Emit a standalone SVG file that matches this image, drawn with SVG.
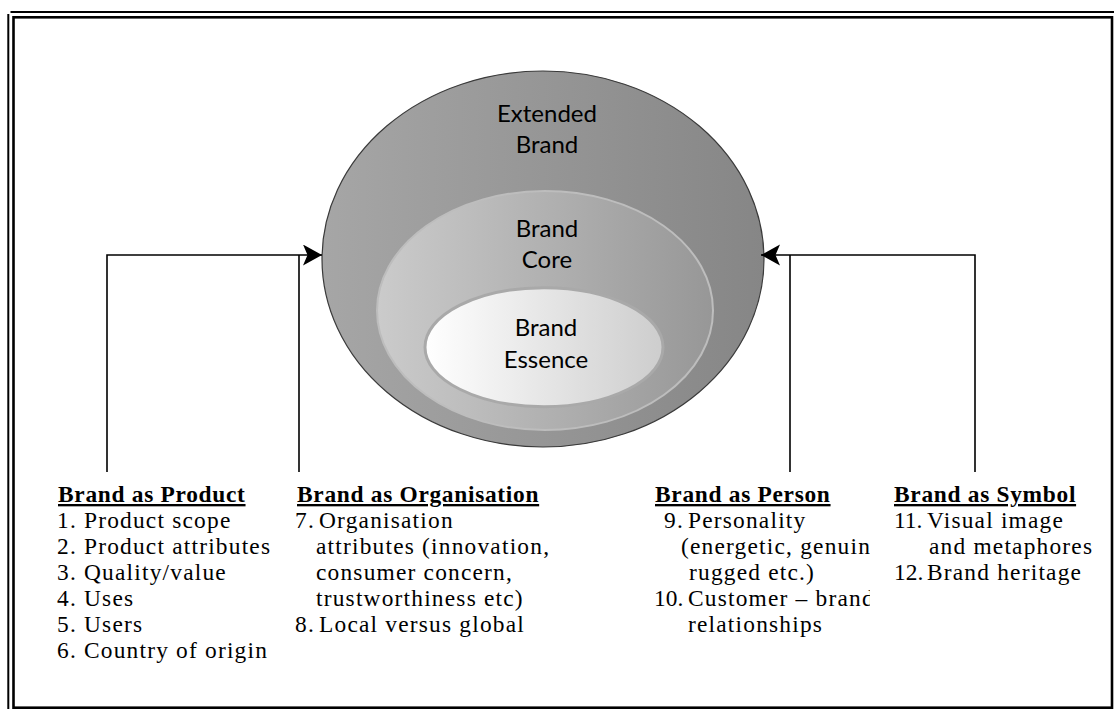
<svg xmlns="http://www.w3.org/2000/svg" width="1114" height="709" viewBox="0 0 1114 709">
  <style>
    .frame { fill: none; stroke: #000; }
    .ring { font-family: Lato, "DejaVu Sans", sans-serif; font-size: 24px; fill: #000; text-anchor: middle; }
    .head { font-family: "Liberation Serif", serif; font-size: 23.4px; font-weight: bold; letter-spacing: 0.7px; text-decoration: underline; fill: #000; }
    .item { font-family: "Liberation Serif", serif; font-size: 23.4px; letter-spacing: 1.2px; fill: #000; }
    .num { letter-spacing: 0px; }
    .conn { fill: none; stroke: #000; stroke-width: 1.6; }
  </style>
  <defs>
    <linearGradient id="gOuter" x1="0" y1="0" x2="1" y2="0">
      <stop offset="0" stop-color="#a6a6a6"/>
      <stop offset="1" stop-color="#868686"/>
    </linearGradient>
    <linearGradient id="gCore" x1="0" y1="0" x2="1" y2="0">
      <stop offset="0" stop-color="#cbcbcb"/>
      <stop offset="1" stop-color="#979797"/>
    </linearGradient>
    <linearGradient id="gEss" x1="0" y1="0" x2="1" y2="0">
      <stop offset="0" stop-color="#ffffff"/>
      <stop offset="1" stop-color="#cdcdcd"/>
    </linearGradient>
    <marker id="arrow" markerUnits="userSpaceOnUse" markerWidth="20" markerHeight="22" refX="19" refY="10.5" orient="auto">
      <path d="M0,0 L19,10.5 L0,21 L4.5,10.5 Z" fill="#000"/>
    </marker>
    <clipPath id="clipPerson">
      <rect x="600" y="470" width="270" height="200"/>
    </clipPath>
  </defs>

  <rect x="0" y="0" width="1114" height="709" fill="#fff"/>

  <g id="frame">
    <line class="frame" x1="10.5" y1="12" x2="1114" y2="12" stroke-width="2"/>
    <line class="frame" x1="8.3" y1="14" x2="8.3" y2="709" stroke-width="2"/>
    <rect class="frame" x="13.5" y="17.3" width="1098.5" height="690.4" stroke-width="2.6"/>
  </g>

  <g id="extended-brand">
    <ellipse cx="543" cy="259" rx="221" ry="188" fill="url(#gOuter)" stroke="#3a3a3a" stroke-width="1.2"/>
    <text class="ring" x="547" y="121.7">Extended</text>
    <text class="ring" x="547" y="153.3">Brand</text>
  </g>

  <g id="brand-core">
    <ellipse cx="545" cy="310.5" rx="168" ry="119.5" fill="url(#gCore)" stroke="#bdbdbd" stroke-width="2"/>
    <text class="ring" x="547" y="236.7">Brand</text>
    <text class="ring" x="547" y="268.3">Core</text>
  </g>

  <g id="brand-essence">
    <ellipse cx="544" cy="347.2" rx="119" ry="59.5" fill="url(#gEss)" stroke="#a9a9a9" stroke-width="3"/>
    <text class="ring" x="546" y="336">Brand</text>
    <text class="ring" x="546" y="368.3">Essence</text>
  </g>

  <g id="connectors">
    <polyline class="conn" points="107,472 107,255 322,255" marker-end="url(#arrow)"/>
    <line class="conn" x1="299" y1="255" x2="299" y2="472"/>
    <polyline class="conn" points="975,472 975,255 761,255" marker-end="url(#arrow)"/>
    <line class="conn" x1="790" y1="255" x2="790" y2="472"/>
  </g>

  <g id="brand-as-product">
    <text class="head" x="58" y="502">Brand as Product</text>
    <text class="item" x="57" y="528">1. Product scope</text>
    <text class="item" x="57" y="554">2. Product attributes</text>
    <text class="item" x="57" y="580">3. Quality/value</text>
    <text class="item" x="57" y="606">4. Uses</text>
    <text class="item" x="57" y="632">5. Users</text>
    <text class="item" x="57" y="658">6. Country of origin</text>
  </g>

  <g id="brand-as-organisation">
    <text class="head" x="297" y="502">Brand as Organisation</text>
    <text class="item" x="295" y="528">7.</text>
    <text class="item" x="319" y="528">Organisation</text>
    <text class="item" x="316" y="554">attributes (innovation,</text>
    <text class="item" x="316" y="580">consumer concern,</text>
    <text class="item" x="316" y="606">trustworthiness etc)</text>
    <text class="item" x="295" y="632">8.</text>
    <text class="item" x="319" y="632">Local versus global</text>
  </g>

  <g id="brand-as-person">
    <text class="head" x="655" y="502">Brand as Person</text>
    <g clip-path="url(#clipPerson)">
      <text class="item" x="664" y="528">9.</text>
      <text class="item" x="688" y="528">Personality</text>
      <text class="item" x="681" y="554">(energetic, genuine,</text>
      <text class="item" x="689" y="580">rugged etc.)</text>
      <text class="item num" x="654" y="606">10.</text>
      <text class="item" x="688" y="606">Customer – brand</text>
      <text class="item" x="688" y="632">relationships</text>
    </g>
  </g>

  <g id="brand-as-symbol">
    <text class="head" x="894" y="502">Brand as Symbol</text>
    <text class="item num" x="894" y="528">11.</text>
    <text class="item" x="927" y="528">Visual image</text>
    <text class="item" x="929" y="554">and metaphores</text>
    <text class="item num" x="894" y="580">12.</text>
    <text class="item" x="927" y="580">Brand heritage</text>
  </g>
</svg>
